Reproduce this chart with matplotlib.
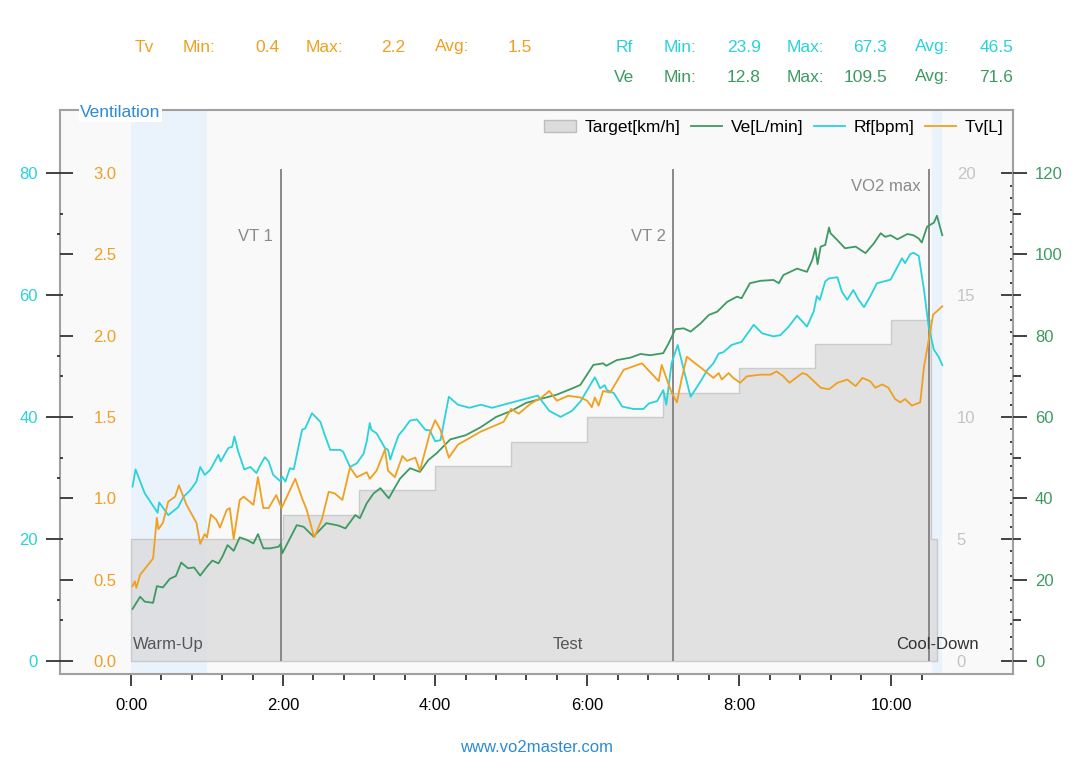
import matplotlib.pyplot as plt
from matplotlib.patches import Patch
from matplotlib.lines import Line2D
from matplotlib.ticker import FixedLocator, FuncFormatter

plt.rcParams['font.family'] = ['Liberation Sans', 'DejaVu Sans']

# colours
C_TV = '#f0a020'
C_RF = '#2ad2da'
C_VE = '#3d9a62'
C_BLUE = '#2d8ad6'

# time in minutes
ve_t = [0.02, 0.12, 0.18, 0.29, 0.34, 0.42, 0.51, 0.59, 0.66, 0.75, 0.83, 0.91, 1.00, 1.07,
        1.15, 1.20, 1.27, 1.35, 1.43, 1.52, 1.61, 1.67, 1.74, 1.83, 1.94, 1.97, 1.99, 2.18,
        2.27, 2.40, 2.57, 2.73, 2.82, 2.95, 3.01, 3.10, 3.19, 3.28, 3.39, 3.45, 3.54, 3.67,
        3.80, 3.91, 4.02, 4.20, 4.40, 4.60, 4.80, 5.00, 5.20, 5.40, 5.60, 5.80, 5.91, 6.08,
        6.21, 6.25, 6.39, 6.57, 6.70, 6.83, 7.00, 7.07, 7.16, 7.27, 7.36, 7.49, 7.60, 7.71,
        7.84, 7.97, 8.03, 8.14, 8.28, 8.45, 8.52, 8.58, 8.76, 8.89, 8.96, 9.00, 9.03, 9.07,
        9.13, 9.18, 9.20, 9.29, 9.39, 9.53, 9.66, 9.77, 9.86, 9.92, 9.99, 10.08, 10.21,
        10.29, 10.36, 10.40, 10.47, 10.56, 10.60, 10.67]
ve = [12.8, 15.8, 14.6, 14.3, 18.4, 18.1, 20.2, 20.9, 24.2, 22.8, 23.0, 21.0, 23.2, 24.7,
      24.0, 25.6, 28.5, 27.1, 30.4, 29.8, 28.9, 31.2, 27.7, 27.7, 28.1, 28.8, 26.5, 33.4,
      33.0, 30.6, 33.9, 33.3, 32.6, 35.9, 35.1, 38.8, 41.2, 42.5, 40.0, 42.0, 44.9, 47.4,
      46.5, 49.4, 51.1, 54.5, 55.5, 57.5, 60.0, 61.5, 63.5, 64.5, 65.5, 67.0, 67.9, 72.8,
      73.2, 72.6, 74.0, 74.6, 75.5, 75.2, 75.7, 78.1, 81.6, 81.8, 81.0, 83.0, 85.1, 85.9,
      88.3, 89.6, 89.2, 92.9, 93.5, 93.7, 92.9, 94.9, 96.5, 95.7, 98.6, 101.5, 97.6, 101.9,
      102.3, 106.6, 105.2, 103.5, 101.5, 101.9, 100.3, 102.7, 105.2, 104.3, 104.7, 103.7, 105.0,
      104.7, 103.9, 102.9, 106.8, 107.8, 109.5, 104.7]

rf_t = [0.02, 0.06, 0.18, 0.35, 0.37, 0.49, 0.62, 0.69, 0.78, 0.86, 0.91, 0.97, 1.04, 1.15,
        1.18, 1.28, 1.33, 1.36, 1.41, 1.49, 1.57, 1.65, 1.70, 1.76, 1.81, 1.87, 1.96, 1.99,
        2.03, 2.09, 2.14, 2.25, 2.29, 2.38, 2.49, 2.55, 2.62, 2.75, 2.79, 2.88, 2.97, 3.06,
        3.10, 3.14, 3.16, 3.23, 3.34, 3.38, 3.41, 3.45, 3.52, 3.58, 3.67, 3.76, 3.87, 3.93,
        4.00, 4.07, 4.18, 4.30, 4.45, 4.60, 4.75, 4.90, 5.05, 5.20, 5.35, 5.50, 5.65, 5.80,
        5.91, 6.00, 6.10, 6.17, 6.23, 6.26, 6.35, 6.46, 6.61, 6.74, 6.81, 6.92, 7.00, 7.04,
        7.11, 7.19, 7.27, 7.36, 7.49, 7.58, 7.66, 7.73, 7.79, 7.90, 8.03, 8.19, 8.30, 8.45,
        8.54, 8.65, 8.76, 8.89, 8.98, 9.02, 9.06, 9.13, 9.18, 9.29, 9.35, 9.42, 9.50, 9.57,
        9.64, 9.72, 9.81, 9.90, 9.99, 10.08, 10.14, 10.18, 10.25, 10.29, 10.36, 10.43, 10.49,
        10.56, 10.62, 10.67]
rf = [28.6, 31.4, 27.5, 24.3, 26.0, 23.9, 25.2, 26.9, 28.0, 29.4, 31.8, 30.5, 31.3, 33.8,
      32.7, 34.9, 35.1, 36.8, 34.3, 31.4, 31.8, 30.8, 32.1, 33.4, 32.7, 30.5, 29.5, 30.2,
      29.4, 31.6, 31.4, 37.9, 38.1, 40.6, 39.2, 37.0, 34.6, 34.6, 34.3, 31.8, 32.4, 34.0,
      36.0, 39.0, 37.9, 37.3, 34.9, 34.6, 33.0, 34.6, 37.0, 37.9, 39.4, 39.6, 37.9, 37.8,
      36.0, 36.2, 43.3, 42.0, 41.5, 42.0, 41.5, 42.0, 42.5, 43.0, 43.5, 41.0, 40.0, 41.0,
      42.5, 44.4, 46.5, 44.7, 45.2, 44.4, 43.9, 41.7, 41.3, 41.3, 42.2, 42.6, 44.4, 42.0,
      48.8, 51.8, 47.7, 43.3, 45.8, 47.7, 48.8, 50.4, 50.6, 51.8, 52.3, 55.1, 53.7, 53.2,
      53.4, 54.8, 56.6, 54.8, 57.3, 59.8, 59.2, 62.2, 62.7, 62.9, 60.5, 59.2, 60.8, 59.2,
      58.0, 59.7, 61.9, 62.2, 62.5, 64.6, 66.0, 65.2, 66.7, 66.9, 66.4, 60.8, 54.8,
      51.0, 49.9, 48.5]

tv_t = [0.02, 0.05, 0.07, 0.12, 0.29, 0.34, 0.36, 0.42, 0.49, 0.58, 0.63, 0.73, 0.86, 0.91,
        0.97, 1.00, 1.05, 1.12, 1.17, 1.26, 1.30, 1.35, 1.43, 1.48, 1.61, 1.67, 1.74, 1.81,
        1.91, 1.98, 2.05, 2.16, 2.25, 2.31, 2.41, 2.51, 2.60, 2.68, 2.78, 2.88, 2.97, 3.10,
        3.14, 3.23, 3.34, 3.38, 3.47, 3.57, 3.63, 3.74, 3.80, 3.93, 4.00, 4.07, 4.18, 4.30,
        4.45, 4.60, 4.75, 4.90, 5.00, 5.10, 5.25, 5.40, 5.50, 5.60, 5.75, 5.91, 6.00, 6.06,
        6.10, 6.15, 6.21, 6.30, 6.34, 6.48, 6.72, 6.78, 6.94, 6.98, 7.04, 7.11, 7.18, 7.24,
        7.31, 7.42, 7.53, 7.66, 7.73, 7.77, 7.86, 7.92, 8.01, 8.10, 8.28, 8.41, 8.49, 8.58,
        8.66, 8.83, 8.89, 9.07, 9.18, 9.29, 9.42, 9.53, 9.62, 9.72, 9.79, 9.88, 9.96, 10.05,
        10.12, 10.18, 10.27, 10.38, 10.43, 10.49, 10.55, 10.60, 10.67]
tv = [0.46, 0.49, 0.45, 0.53, 0.63, 0.88, 0.81, 0.85, 0.98, 1.01, 1.08, 0.96, 0.85, 0.72,
      0.78, 0.76, 0.90, 0.87, 0.82, 0.93, 0.94, 0.75, 0.99, 1.01, 0.96, 1.13, 0.94, 0.94,
      1.02, 0.94, 1.01, 1.12, 1.00, 0.93, 0.76, 0.87, 1.04, 1.03, 0.99, 1.19, 1.13, 1.16,
      1.12, 1.17, 1.30, 1.17, 1.13, 1.26, 1.23, 1.25, 1.17, 1.40, 1.48, 1.42, 1.25, 1.33,
      1.37, 1.41, 1.44, 1.47, 1.55, 1.52, 1.58, 1.62, 1.66, 1.60, 1.63, 1.62, 1.60, 1.56,
      1.62, 1.57, 1.66, 1.65, 1.68, 1.79, 1.83, 1.80, 1.72, 1.82, 1.74, 1.65, 1.59, 1.73,
      1.87, 1.83, 1.79, 1.74, 1.77, 1.73, 1.77, 1.74, 1.71, 1.75, 1.76, 1.76, 1.78, 1.75,
      1.71, 1.77, 1.76, 1.68, 1.67, 1.71, 1.73, 1.69, 1.74, 1.72, 1.68, 1.70, 1.68, 1.61,
      1.59, 1.61, 1.57, 1.59, 1.81, 1.97, 2.13, 2.15, 2.18]

target_t = [0, 2, 3, 4, 5, 6, 7, 8, 9, 10, 10.52, 10.6]
target = [5, 6, 7, 8, 9, 10, 11, 12, 13, 14, 5, 5]

markers = [1.97, 7.13, 10.49]
marker_labels = ['VT 1', 'VT 2', 'VO2 max']
marker_label_y = [17.4, 17.4, 19.45]   # in km/h axis units

phases = [(0.0, 1.0), (10.54, 10.67)]

stats = [
    ('Tv', C_TV, 47, ['0.4', '2.2', '1.5']),
    ('Rf', C_RF, 47, ['23.9', '67.3', '46.5']),
    ('Ve', C_VE, 77, ['12.8', '109.5', '71.6']),
]

W, H = 1079, 766
fig = plt.figure(figsize=(W / 100, H / 100), dpi=100)
ax = fig.add_axes([60 / W, 1 - 674 / H, 953 / W, 564 / H])
ax_ve = ax.twinx()
ax_rf = ax.twinx()
ax_tv = ax.twinx()

ax.set_facecolor('#f9f9f9')
for s in ax.spines.values():
    s.set_color('#a0a0a0')
    s.set_linewidth(1.5)
for a in (ax_ve, ax_rf, ax_tv):
    for s in a.spines.values():
        s.set_visible(False)

# background bands + target
for x0, x1 in phases:
    ax.axvspan(x0, x1, color='#eaf2fc', zorder=0, lw=0)
ax.fill_between(target_t, target, step='post', facecolor='#d8d8d8', alpha=0.7,
                edgecolor='#bdbdbd', linewidth=1, zorder=1)
ax.vlines(markers, 0, 20.2, color='#808080', lw=1.3, zorder=2)
for x, lab, y in zip(markers, marker_labels, marker_label_y):
    ax.text(x - 0.1, y, lab, ha='right', va='center', color='#8a8a8a', fontsize=12, zorder=3)

ax.text(0.02, 0.66, 'Warm-Up', ha='left', va='center', color='#555555', fontsize=12)
ax.text(5.75, 0.66, 'Test', ha='center', va='center', color='#555555', fontsize=12)
ax.text(10.6, 0.66, 'Cool-Down', ha='center', va='center', color='#333333', fontsize=12)

# lines
ax_ve.plot(ve_t, ve, color=C_VE, lw=1.3)
ax_rf.plot(rf_t, rf, color=C_RF, lw=1.3)
ax_tv.plot(tv_t, tv, color=C_TV, lw=1.3)

# limits
ax.set_xlim(-0.934, 11.6)
ax.set_ylim(-0.533, 22.6)
ax_ve.set_ylim(-3.2, 135.5)
ax_rf.set_ylim(-2.13, 90.3)
ax_tv.set_ylim(-0.08, 3.387)

# x axis
ax.xaxis.set_major_locator(FixedLocator([0, 2, 4, 6, 8, 10]))
ax.xaxis.set_minor_locator(FixedLocator([i * 0.4 for i in range(27)]))
ax.xaxis.set_major_formatter(FuncFormatter(lambda v, p: '%d:00' % v))
ax.tick_params(axis='x', which='major', length=8.6, width=1.3, color='#333333',
               labelsize=12, pad=9)
ax.tick_params(axis='x', which='minor', length=4.3, width=1.3, color='#333333')

# target (inner right)
ax.yaxis.tick_right()
ax.yaxis.set_major_locator(FixedLocator([0, 5, 10, 15, 20]))
ax.yaxis.set_minor_locator(FixedLocator([i * 0.5 for i in range(41)]))
ax.tick_params(axis='y', which='major', direction='in', length=8.6, width=1.3,
               color='#333333', labelcolor='#c4c4c4', labelsize=12, pad=-40.5)
ax.tick_params(axis='y', which='minor', direction='in', length=2.2, width=1.3, color='#333333')

# Ve (outer right)
ax_ve.yaxis.set_major_locator(FixedLocator([0, 20, 40, 60, 80, 100, 120]))
ax_ve.yaxis.set_minor_locator(FixedLocator([10, 30, 50, 70, 90, 110]))
ax_ve.tick_params(axis='y', which='major', length=10, width=1.3, color='#333333',
                  labelcolor=C_VE, labelsize=12, pad=5.8)
ax_ve.tick_params(axis='y', which='minor', length=6, width=1.3, color='#333333')

# Rf (outer left)
ax_rf.yaxis.tick_left()
ax_rf.yaxis.set_major_locator(FixedLocator([0, 20, 40, 60, 80]))
ax_rf.yaxis.set_minor_locator(FixedLocator([10, 30, 50, 70]))
ax_rf.tick_params(axis='y', which='major', length=10, width=1.3, color='#333333',
                  labelcolor=C_RF, labelsize=12, pad=6)
ax_rf.tick_params(axis='y', which='minor', length=2.2, width=1.3, color='#333333')

# Tv (inner left)
ax_tv.yaxis.tick_left()
ax_tv.yaxis.set_major_locator(FixedLocator([0, 0.5, 1, 1.5, 2, 2.5, 3]))
ax_tv.yaxis.set_minor_locator(FixedLocator([0.25, 0.75, 1.25, 1.75, 2.25, 2.75]))
ax_tv.yaxis.set_major_formatter(FuncFormatter(lambda v, p: '%.1f' % v))
ax_tv.tick_params(axis='y', which='major', direction='in', length=9.4, width=1.3,
                  color='#333333', labelcolor=C_TV, labelsize=12, pad=-40.8)
ax_tv.tick_params(axis='y', which='minor', direction='in', length=2.2, width=1.3, color='#333333')
for a in (ax_ve, ax_rf, ax_tv):
    a.tick_params(axis='x', which='both', bottom=False, labelbottom=False)

# legend
handles = [Patch(facecolor='#dcdcdc', edgecolor='#bdbdbd'),
           Line2D([], [], color=C_VE, lw=1.3),
           Line2D([], [], color=C_RF, lw=1.3),
           Line2D([], [], color=C_TV, lw=1.3)]
ax_tv.legend(handles, ['Target[km/h]', 'Ve[L/min]', 'Rf[bpm]', 'Tv[L]'], loc='upper right',
             ncol=4, frameon=False, fontsize=12.5, handlelength=1.8, handletextpad=0.5,
             columnspacing=0.6, borderaxespad=0.15)

ax.text(0.021, 0.995, 'Ventilation', transform=ax.transAxes, ha='left', va='center',
        color=C_BLUE, fontsize=12.5, zorder=10, clip_on=False,
        bbox=dict(facecolor='white', edgecolor='none', pad=1))

# header stats
def ftext(x, y, s, **kw):
    fig.text(x / W, 1 - y / H, s, va='center', fontsize=12.5, **kw)

for name, col, y, vals in stats:
    if name == 'Tv':
        xs = (144, 183, 279, 306, 405, 435, 532)
    else:
        xs = (624, 664, 761, 787, 887, 915, 1013)
    ftext(xs[0], y, name, ha='center', color=col)
    ftext(xs[1], y, 'Min:', ha='left', color=col)
    ftext(xs[2], y, vals[0], ha='right', color=col)
    ftext(xs[3], y, 'Max:', ha='left', color=col)
    ftext(xs[4], y, vals[1], ha='right', color=col)
    ftext(xs[5], y, 'Avg:', ha='left', color=col)
    ftext(xs[6], y, vals[2], ha='right', color=col)

fig.text(537 / W, 1 - 747 / H, 'www.vo2master.com', ha='center', va='center',
         color=C_BLUE, fontsize=12)

fig.savefig('out.png', dpi=100)
